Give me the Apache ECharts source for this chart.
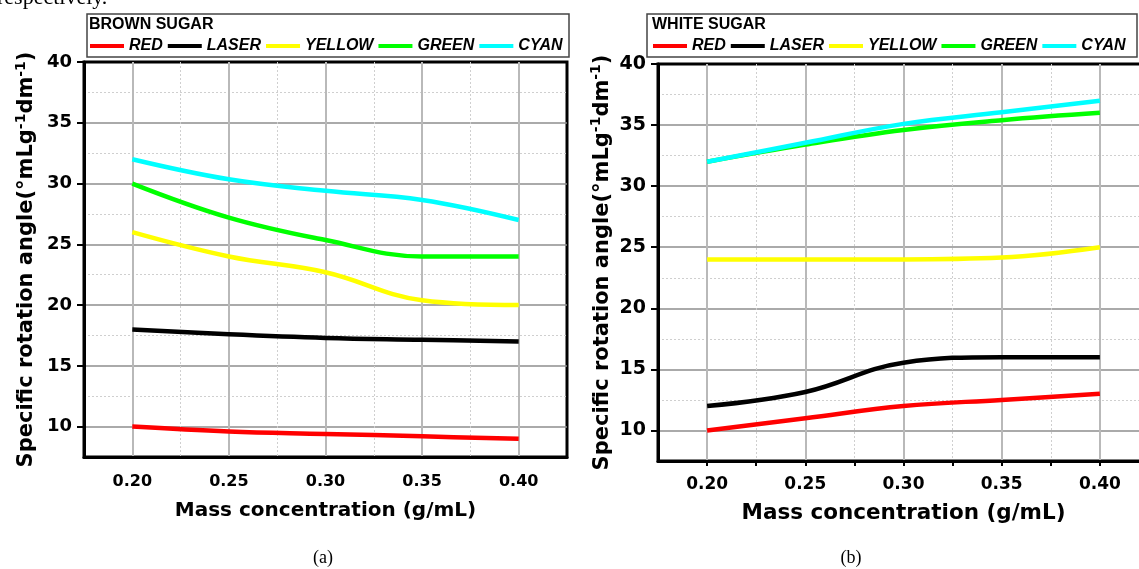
<!DOCTYPE html>
<html><head><meta charset="utf-8">
<script src="https://cdn.jsdelivr.net/npm/echarts@6/dist/echarts.min.js"></script>
<style>html,body{margin:0;padding:0;background:#fff}#c{width:1139px;height:569px}</style>
</head><body><div id="c"></div>
<script>
// ---- data ----
const concentrations = [0.20, 0.25, 0.30, 0.35, 0.40];
const seriesNames = ['RED', 'LASER', 'YELLOW', 'GREEN', 'CYAN'];
const seriesColors = ['#ff0000', '#000000', '#ffff00', '#00ff00', '#00ffff'];

const brownRed    = [10.0, 9.6, 9.4, 9.2, 9.0];
const brownLaser  = [18.0, 17.6, 17.3, 17.15, 17.0];
const brownYellow = [26.0, 24.0, 22.7, 20.4, 20.0];
const brownGreen  = [30.0, 27.2, 25.35, 24.0, 24.0];
const brownCyan   = [32.0, 30.35, 29.4, 28.65, 27.0];

const whiteRed    = [10.0, 11.0, 12.0, 12.5, 13.0];
const whiteLaser  = [12.0, 13.15, 15.55, 16.0, 16.0];
const whiteYellow = [24.0, 24.0, 24.0, 24.15, 25.0];
const whiteGreen  = [32.0, 33.4, 34.6, 35.4, 36.0];
const whiteCyan   = [32.0, 33.55, 35.1, 36.05, 37.0];

const xTickLabels = [0.20, 0.25, 0.30, 0.35, 0.40];
const xMinorTicks = [0.225, 0.275, 0.325, 0.375];
const yTickLabels = [10, 15, 20, 25, 30, 35, 40];
const yMinorTicks = [12.5, 17.5, 22.5, 27.5, 32.5, 37.5];

const panelTitles = ['BROWN SUGAR', 'WHITE SUGAR'];
const captions = ['(a)', '(b)'];
const xName = 'Mass concentration (g/mL)';
const yName = 'Specific rotation angle(°mLg{sup|-1}dm{sup|-1})';

// ---- build ----
const panels = [
  [brownRed, brownLaser, brownYellow, brownGreen, brownCyan],
  [whiteRed, whiteLaser, whiteYellow, whiteGreen, whiteCyan]
];
const SANS = 'DejaVu Sans';
const grids = [
  { left: 84, top: 62, width: 483, height: 395 },
  { left: 658, top: 64, width: 491, height: 397 }
];
const xCfg = [
  { ticks: false, labelSize: 16, nameSize: 20, nameGap: 44, margin: 17 },
  { ticks: true, labelSize: 17, nameSize: 21.5, nameGap: 41, margin: 15 }
];
const yCfg = [
  { labelSize: 18, nameGap: 44 },
  { labelSize: 19, nameGap: 41 }
];
const allXTicks = xTickLabels.concat(xMinorTicks).sort((a, b) => a - b);
const yGridMajor = yTickLabels.filter(v => v < 40);

const xAxis = [], yAxis = [], series = [];
grids.forEach((g, gi) => {
  const base = { gridIndex: gi, type: 'value', min: 0.175, max: 0.425 };
  xAxis.push(Object.assign({}, base, {
    position: 'bottom',
    axisLine: { show: true, onZero: false, lineStyle: { color: '#000', width: 3 } },
    axisTick: { show: xCfg[gi].ticks, customValues: allXTicks, length: 5, lineStyle: { color: '#000', width: 2 } },
    axisLabel: { customValues: xTickLabels, formatter: v => v.toFixed(2), color: '#000', fontFamily: SANS, fontWeight: 'bold', fontSize: xCfg[gi].labelSize, margin: xCfg[gi].margin },
    splitLine: { show: false },
    name: xName, nameLocation: 'middle', nameGap: xCfg[gi].nameGap,
    nameTextStyle: { color: '#000', fontFamily: SANS, fontWeight: 'bold', fontSize: xCfg[gi].nameSize }
  }));
  xAxis.push(Object.assign({}, base, {
    position: 'bottom', axisLine: { show: false }, axisLabel: { show: false },
    axisTick: { show: false, customValues: xTickLabels },
    splitLine: { show: true, lineStyle: { color: '#b9b9b9', width: 2 } }
  }));
  xAxis.push(Object.assign({}, base, {
    position: 'bottom', axisLine: { show: false }, axisLabel: { show: false },
    axisTick: { show: false, customValues: xMinorTicks },
    splitLine: { show: true, lineStyle: { color: '#cfcfcf', width: 1, type: [2, 2] } }
  }));

  const ybase = { gridIndex: gi, type: 'value', min: 7.5, max: 40 };
  yAxis.push(Object.assign({}, ybase, {
    position: 'left',
    axisLine: { show: true, onZero: false, lineStyle: { color: '#000', width: 3 } },
    axisTick: { show: true, customValues: yTickLabels, length: 7, lineStyle: { color: '#000', width: 2 } },
    axisLabel: { customValues: yTickLabels, color: '#000', fontFamily: SANS, fontWeight: 'bold', fontSize: yCfg[gi].labelSize, margin: 12 },
    splitLine: { show: false },
    name: yName, nameLocation: 'middle', nameGap: yCfg[gi].nameGap,
    nameTextStyle: {
      color: '#000', fontFamily: SANS, fontWeight: 'bold', fontSize: 21, lineHeight: 26,
      rich: { sup: { color: '#000', fontFamily: SANS, fontWeight: 'bold', fontSize: 14, lineHeight: 26, verticalAlign: 'top' } }
    }
  }));
  yAxis.push(Object.assign({}, ybase, {
    position: 'left', axisLine: { show: false }, axisLabel: { show: false },
    axisTick: { show: false, customValues: yGridMajor },
    splitLine: { show: true, lineStyle: { color: '#8e8e8e', width: 1.5 } }
  }));
  yAxis.push(Object.assign({}, ybase, {
    position: 'left', axisLine: { show: false }, axisLabel: { show: false },
    axisTick: { show: false, customValues: yMinorTicks },
    splitLine: { show: true, lineStyle: { color: '#cfcfcf', width: 1, type: [2, 2] } }
  }));

  panels[gi].forEach((vals, si) => {
    series.push({
      name: seriesNames[si], type: 'line', xAxisIndex: gi * 3, yAxisIndex: gi * 3,
      data: concentrations.map((c, k) => [c, vals[k]]),
      smooth: 0.4, showSymbol: false, symbol: 'none', z: 3,
      lineStyle: { color: seriesColors[si], width: 4.5 }, itemStyle: { color: seriesColors[si] },
      emphasis: { disabled: true }, animation: false
    });
  });
});

const legendBase = {
  data: seriesNames, top: 38, itemWidth: 34, itemHeight: 4, itemGap: 5, padding: 0,
  icon: 'rect', selectedMode: false,
  textStyle: { color: '#000', fontFamily: 'Liberation Sans', fontStyle: 'italic', fontWeight: 'bold', fontSize: 16 }
};

const titleStyle = { color: '#000', fontFamily: 'Liberation Sans', fontWeight: 'bold', fontSize: 16 };
const option = {
  backgroundColor: '#fff',
  animation: false,
  grid: grids.map(g => Object.assign({ show: true, borderColor: '#000', borderWidth: 3, backgroundColor: '#fff', containLabel: false, outerBoundsMode: 'none' }, g)),
  xAxis, yAxis, series,
  legend: [Object.assign({ left: 90 }, legendBase), Object.assign({ left: 653 }, legendBase)],
  title: [
    { text: panelTitles[0], left: 89, top: 17, padding: 0, textStyle: titleStyle },
    { text: panelTitles[1], left: 652, top: 17, padding: 0, textStyle: titleStyle }
  ],
  graphic: [
    { type: 'rect', shape: { x: 87, y: 14, width: 482, height: 43 }, style: { fill: 'none', stroke: '#444', lineWidth: 1.5 }, z: 10 },
    { type: 'rect', shape: { x: 647, y: 14, width: 490, height: 43 }, style: { fill: 'none', stroke: '#444', lineWidth: 1.5 }, z: 10 },
    { type: 'text', x: -3, y: 9, style: { text: 'respectively.', font: '22px "Liberation Serif"', fill: '#000', verticalAlign: 'bottom' } },
    { type: 'text', x: 323, y: 558, style: { text: captions[0], font: '18px "Liberation Serif"', fill: '#000', align: 'center', verticalAlign: 'middle' } },
    { type: 'text', x: 851, y: 558, style: { text: captions[1], font: '18px "Liberation Serif"', fill: '#000', align: 'center', verticalAlign: 'middle' } }
  ]
};

const chart = echarts.init(document.getElementById('c'), null, { renderer: 'canvas' });
chart.setOption(option);
</script>
</body></html>
